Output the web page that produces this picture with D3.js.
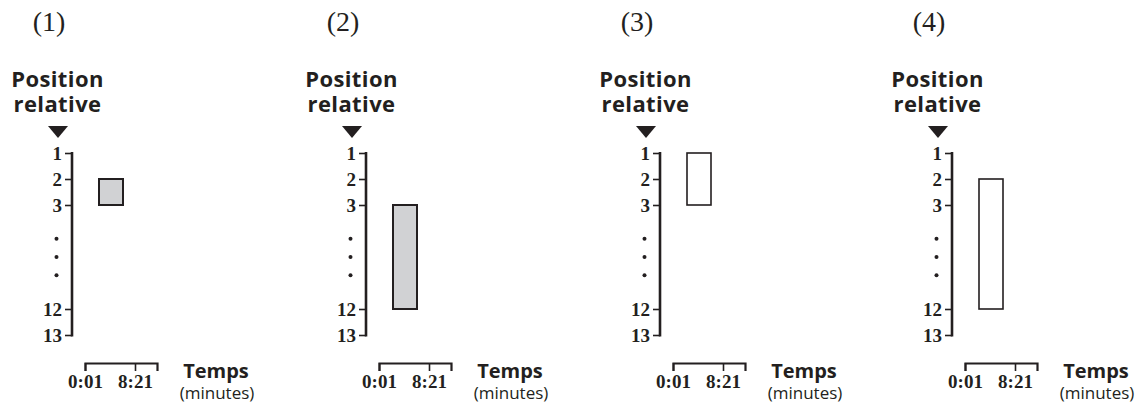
<!DOCTYPE html>
<html>
<head>
<meta charset="utf-8">
<script src="https://cdn.jsdelivr.net/npm/d3@7"></script>
<style>
  body { margin: 0; background: #fff; }
  svg { display: block; }
</style>
</head>
<body>
<script>
// données
const panels = ["(1)", "(2)", "(3)", "(4)"];
const rankStart = [2, 3, 1, 2];
const rankEnd = [3, 12, 3, 12];
const timeStart = [141, 141, 141, 141]; // secondes (2:21)
const timeEnd = [381, 381, 381, 381];   // secondes (6:21)
const filled = [true, true, false, false];
const yTicks = [1, 2, 3, 12, 13];
const xTicks = [1, 501];
const xTickLabels = ["0:01", "8:21"];

const width = 1145, height = 410;
const panelX = [72, 366, 660, 952];

const serif = "'Liberation Serif', 'Times New Roman', serif";
const sans = "'Open Sans', 'Noto Sans', sans-serif";

const svg = d3.select("body").append("svg")
    .attr("width", width)
    .attr("height", height);

// axe cassé : 1,2,3 puis ... puis 12,13
function slot(rank) {
    return rank <= 3 ? rank - 1 : rank - 6;
}
const y = d3.scaleLinear().domain([0, 7]).range([153, 335]);
const x = d3.scaleLinear().domain([1, 721]).range([13, 85]);

panels.forEach((name, i) => {
    const g = svg.append("g").attr("transform", "translate(" + panelX[i] + ",0)");

    g.append("text")
        .attr("x", -23)
        .attr("y", 31)
        .attr("text-anchor", "middle")
        .attr("fill", "#231f20")
        .style("font-family", serif)
        .style("font-size", "28px")
        .text(name);

    const title = g.append("text")
        .attr("text-anchor", "middle")
        .attr("fill", "#231f20")
        .style("font-family", sans)
        .style("font-weight", "700")
        .style("font-size", "22px")
        .style("letter-spacing", "0.4px");
    title.append("tspan").attr("x", -14.5).attr("y", 87).text("Position");
    title.append("tspan").attr("x", -14.5).attr("y", 112).text("relative");

    // triangle
    g.append("path")
        .attr("d", d3.line()([[-24, 126], [-4, 126], [-14, 138]]) + "Z")
        .attr("fill", "#231f20");

    // axe vertical
    const yAxis = g.append("g")
        .call(d3.axisLeft(y)
            .tickValues(yTicks.map(slot))
            .tickFormat((d) => yTicks[yTicks.map(slot).indexOf(d)])
            .tickSizeOuter(0)
            .tickSize(7)
            .tickPadding(3));
    yAxis.select(".domain")
        .attr("stroke", "#231f20")
        .attr("stroke-width", 2.6)
        .attr("d", "M0," + (y(0) - 1) + "V" + (y(7) + 1.5));
    yAxis.selectAll(".tick line").attr("stroke", "#231f20").attr("stroke-width", 1.6);
    yAxis.selectAll(".tick text")
        .attr("fill", "#231f20")
        .style("font-family", serif)
        .style("font-weight", "700")
        .style("font-size", "19px");

    // points de suspension
    g.selectAll(".dot")
        .data([3.3, 4.0, 4.7])
        .join("circle")
        .attr("class", "dot")
        .attr("cx", -15.5)
        .attr("cy", (d) => y(d))
        .attr("r", 2)
        .attr("fill", "#231f20");

    // axe horizontal
    const xAxis = g.append("g")
        .attr("transform", "translate(0,363)")
        .call(d3.axisBottom(x)
            .tickValues(xTicks)
            .tickFormat((d, j) => xTickLabels[j])
            .tickSizeOuter(0)
            .tickSize(8)
            .tickPadding(4));
    xAxis.select(".domain").attr("stroke", "#231f20").attr("stroke-width", 2.2);
    xAxis.selectAll(".tick line").attr("stroke", "#231f20").attr("stroke-width", 1.6);
    xAxis.selectAll(".tick text")
        .attr("fill", "#231f20")
        .style("font-family", serif)
        .style("font-weight", "700")
        .style("font-size", "19px");

    g.append("text")
        .attr("x", 144)
        .attr("y", 378)
        .attr("text-anchor", "middle")
        .style("font-family", sans)
        .style("font-weight", "700")
        .style("font-size", "20px")
        .attr("fill", "#231f20")
        .text("Temps");
    g.append("text")
        .attr("x", 145)
        .attr("y", 399)
        .attr("text-anchor", "middle")
        .style("font-family", sans)
        .style("font-size", "17px")
        .attr("fill", "#231f20")
        .text("(minutes)");

    // barre
    g.append("rect")
        .attr("x", x(timeStart[i]))
        .attr("y", y(slot(rankStart[i])))
        .attr("width", x(timeEnd[i]) - x(timeStart[i]))
        .attr("height", y(slot(rankEnd[i])) - y(slot(rankStart[i])))
        .attr("fill", filled[i] ? "#d1d2d4" : "#fff")
        .attr("stroke", "#231f20")
        .attr("stroke-width", filled[i] ? 2 : 1.6);
});
</script>
</body>
</html>
